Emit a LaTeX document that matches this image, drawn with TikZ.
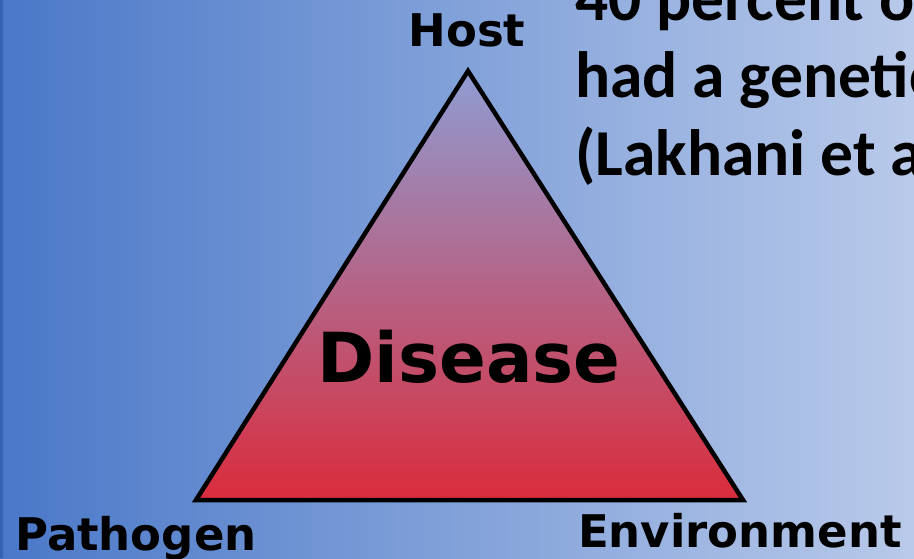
\documentclass[tikz,border=0pt]{standalone}
\usepackage{fontspec}
\usepackage{tikz}
\usetikzlibrary{positioning}
\newfontfamily\labelfont{DejaVu Sans}
\newfontfamily\notefont{Carlito}
\definecolor{bgleft}{HTML}{4A78C8}
\definecolor{bgright}{HTML}{B9CAEA}
\definecolor{edge}{HTML}{3762B2}
\definecolor{tritop}{HTML}{8F9CD2}
\definecolor{trimid}{HTML}{B6668C}
\definecolor{tribot}{HTML}{DA2C3C}
\tikzset{corner/.style={inner sep=0pt,font=\labelfont\bfseries\fontsize{45}{45}\selectfont},disease/.style={inner sep=0pt,font=\labelfont\bfseries\fontsize{69}{69}\selectfont},note/.style={inner sep=0pt,anchor=base west,font=\notefont\bfseries\fontsize{65.5}{65.5}\selectfont},triangle/.style={draw=black,line width=4.5pt,top color=tritop,middle color=trimid,bottom color=tribot}}

\begin{document}
\begin{tikzpicture}[x=1pt,y=-1pt]
 \useasboundingbox (0,0) rectangle (914,558);
 \clip (0,0) rectangle (914,558);
 \shade[left color=bgleft,right color=bgright] (0,0) rectangle (914,558);
 \fill[edge] (0,0) rectangle (3,558);
 \coordinate (apex) at (468,71); \coordinate (bl) at (196,500); \coordinate (br) at (743,500);
 \path[triangle] (apex)--(bl)--(br)--cycle;
 \node[disease,anchor=base] (dis) at (469,382) {Disease};
 \node[corner,anchor=base] (host) at (467,46) {Host};
 \node[corner,anchor=base west] (path) at (15,550) {Pathogen};
 \node[corner,anchor=base east] (env) at (902,547) {Environment};
 \node[note] (l1) at (575,20) {40 percent of};
 \node[note] (l2) at (575,97) {had a genetic};
 \node[note] (l3) at (575,175) {(Lakhani et al};
\end{tikzpicture}
\end{document}
